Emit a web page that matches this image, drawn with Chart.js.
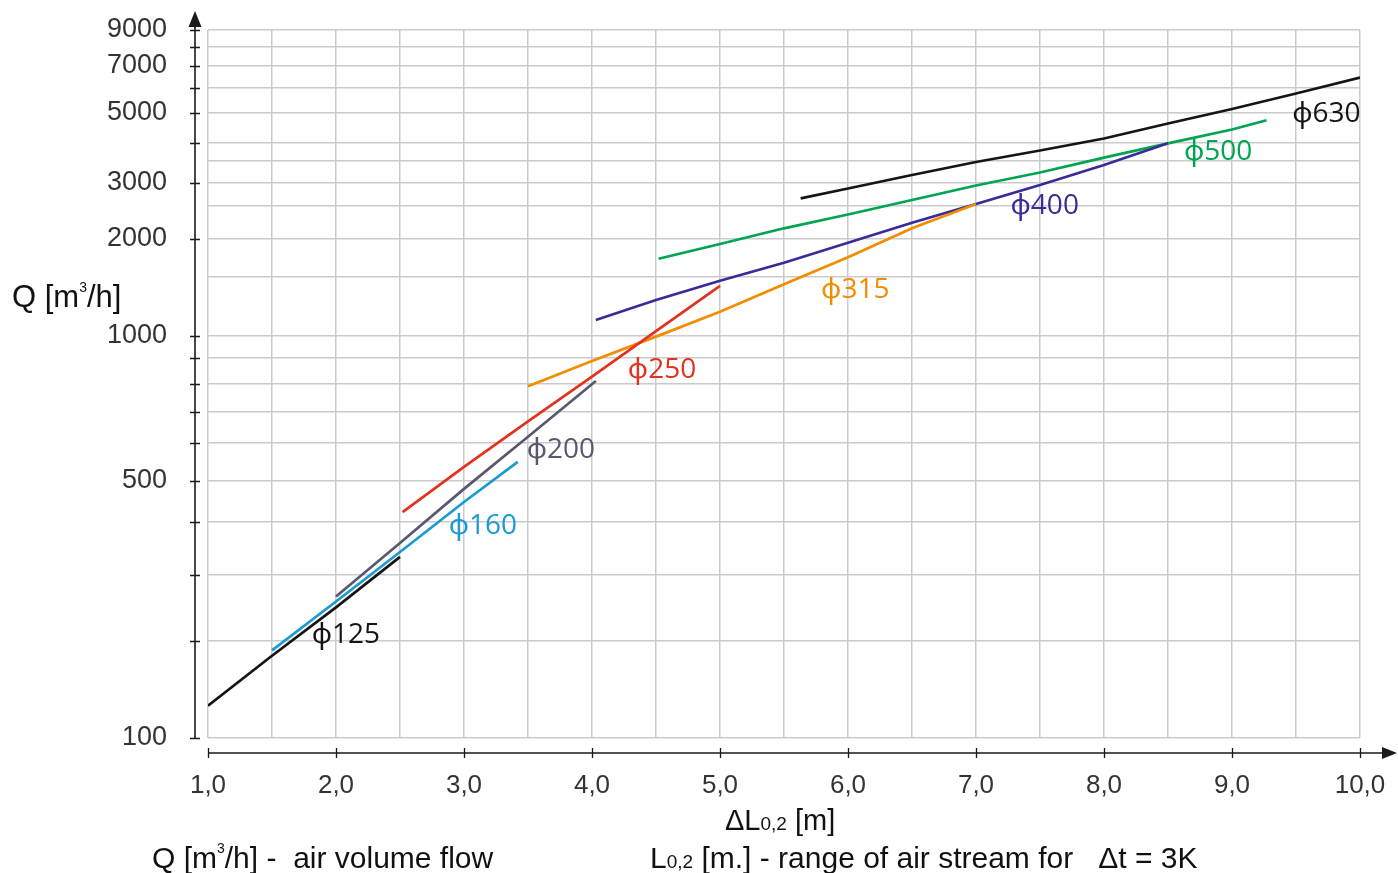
<!DOCTYPE html>
<html>
<head>
<meta charset="utf-8">
<title>Q - air volume flow vs L0,2</title>
<script src="https://cdn.jsdelivr.net/npm/chart.js@4.4.1/dist/chart.umd.min.js"></script>
<style>
  html, body { margin: 0; padding: 0; background: #fff; }
  #wrap { position: relative; width: 1398px; height: 873px; }
</style>
</head>
<body>
<div id="wrap"><canvas id="airChart" width="1398" height="873"></canvas></div>
<script>
// --- curves (x = ΔL0,2 in m, q = Q in m3/h) ---
const x125 = [1.0, 1.5, 2.0, 2.5];
const q125 = [126, 180, 246, 331];
const x160 = [1.5, 2.0, 2.5, 3.0, 3.42];
const q160 = [187, 255, 340, 446, 548];
const x200 = [2.0, 2.5, 3.0, 3.5, 4.03];
const q200 = [263, 357, 479, 619, 811];
const x250 = [2.52, 3.0, 3.5, 4.0, 4.5, 5.0];
const q250 = [422, 535, 668, 827, 1034, 1412];
const x315 = [3.5, 4.0, 4.5, 5.0, 5.5, 6.0, 6.5, 7.0];
const q315 = [791, 888, 997, 1182, 1427, 1741, 2150, 2540];
const x400 = [4.03, 4.5, 5.0, 5.5, 6.0, 6.5, 7.0, 7.5, 8.0, 8.5];
const q400 = [1116, 1281, 1462, 1672, 1945, 2233, 2540, 2952, 3403, 3990];
const x500 = [4.52, 5.0, 5.5, 6.0, 6.5, 7.0, 7.5, 8.0, 8.5, 9.0, 9.27];
const q500 = [1723, 1925, 2150, 2360, 2622, 2942, 3229, 3587, 3990, 4422, 4737];
const x630 = [5.63, 6.0, 6.5, 7.0, 7.5, 8.0, 8.5, 9.0, 9.5, 10.0];
const q630 = [2657, 2872, 3173, 3476, 3783, 4136, 4624, 5148, 5765, 6449];

// curve labels (text, where it sits in data units)
const labelText = ['ϕ125', 'ϕ160', 'ϕ200', 'ϕ250', 'ϕ315', 'ϕ400', 'ϕ500', 'ϕ630'];
const labelX = [1.81, 2.88, 3.49, 4.28, 5.79, 7.27, 8.625, 9.47];
const labelQ = [210, 396, 586, 860, 1391, 2540, 3797, 5047];

// axis ticks
const yTickValues = [100, 200, 300, 400, 500, 600, 700, 800, 900,
                     1000, 2000, 3000, 4000, 5000, 6000, 7000, 8000, 9000];
const yLabelValues = [100, 500, 1000, 2000, 3000, 5000, 7000, 9000];
const yExtraGrid = [1500, 2500, 3500];
const xMarkValues = [1, 2, 3, 4, 5, 6, 7, 8, 9, 10];

// the printed Q axis is not a clean log axis: each stop's share of the height
const yStopValues = [100, 200, 300, 400, 500, 600, 700, 800, 900, 1000,
                     1500, 2000, 2500, 3000, 3500, 4000, 5000, 6000, 7000, 8000, 9000];
const yStopFractions = [0, 0.137, 0.2302, 0.3051, 0.363, 0.4167, 0.4605, 0.5, 0.5367, 0.5678,
                        0.6511, 0.7048, 0.7514, 0.7839, 0.815, 0.8404, 0.8828, 0.9181, 0.9492, 0.976, 1];

const colors = ['#151515', '#1b9ad4', '#595871', '#e3321f', '#f28c00', '#392c99', '#00a551', '#151515'];
const FONT = '"Liberation Sans", Arial, sans-serif';

// piecewise log mapping value -> 0..1
function warp(v) {
  const n = yStopValues.length;
  let i = 1;
  while (i < n - 1 && v > yStopValues[i]) i++;
  const a = yStopValues[i - 1], b = yStopValues[i];
  const t = Math.log(v / a) / Math.log(b / a);
  return yStopFractions[i - 1] + t * (yStopFractions[i] - yStopFractions[i - 1]);
}
function unwarp(d) {
  const n = yStopFractions.length;
  let i = 1;
  while (i < n - 1 && d > yStopFractions[i]) i++;
  const fa = yStopFractions[i - 1], fb = yStopFractions[i];
  const t = (d - fa) / (fb - fa);
  return yStopValues[i - 1] * Math.pow(yStopValues[i] / yStopValues[i - 1], t);
}

class NomogramScale extends Chart.Scale {
  determineDataLimits() {
    this.min = yStopValues[0];
    this.max = yStopValues[yStopValues.length - 1];
  }
  buildTicks() {
    return yTickValues.concat(yExtraGrid).sort((a, b) => a - b).map(v => ({ value: v }));
  }
  getLabelForValue(v) { return String(v); }
  getPixelForValue(v) {
    if (v === null || v === undefined || isNaN(v)) return NaN;
    return this.getPixelForDecimal(warp(v));
  }
  getValueForPixel(p) { return unwarp(this.getDecimalForPixel(p)); }
}
NomogramScale.id = 'nomogram';
NomogramScale.defaults = {};
Chart.register(NomogramScale);

function pairs(xs, qs) { return xs.map((x, i) => ({ x: x, y: qs[i] })); }

const series = [
  pairs(x125, q125), pairs(x160, q160), pairs(x200, q200), pairs(x250, q250),
  pairs(x315, q315), pairs(x400, q400), pairs(x500, q500), pairs(x630, q630)
];

function drawRuns(ctx, x, y, runs) {
  let cx = x;
  runs.forEach(r => {
    ctx.font = r.size + 'px ' + FONT;
    ctx.fillText(r.text, cx, y + (r.dy || 0));
    cx += ctx.measureText(r.text).width;
  });
}

const decorPlugin = {
  id: 'nomogramDecor',
  afterDraw(chart) {
    const { ctx, chartArea: ca } = chart;
    const xs = chart.scales.x, ys = chart.scales.y;
    const ax = ca.left - 13, ay = ca.bottom + 15;
    ctx.save();
    ctx.strokeStyle = '#1a1a1a';
    ctx.fillStyle = '#1a1a1a';
    ctx.lineWidth = 1.6;

    // axis lines with arrows
    ctx.beginPath();
    ctx.moveTo(ax, ca.bottom); ctx.lineTo(ax, 22);
    ctx.moveTo(ca.left, ay); ctx.lineTo(1386, ay);
    ctx.stroke();
    ctx.beginPath();
    ctx.moveTo(ax, 11); ctx.lineTo(ax - 6.5, 27); ctx.lineTo(ax + 6.5, 27); ctx.closePath();
    ctx.moveTo(1397, ay); ctx.lineTo(1382, ay - 6); ctx.lineTo(1382, ay + 6); ctx.closePath();
    ctx.fill();

    // tick marks on the axes
    ctx.lineWidth = 1.3;
    ctx.beginPath();
    yTickValues.forEach(v => {
      const py = Math.round(ys.getPixelForValue(v)) + 0.5;
      ctx.moveTo(ax - 5, py); ctx.lineTo(ax + 5, py);
    });
    xMarkValues.forEach(v => {
      const px = Math.round(xs.getPixelForValue(v)) + 0.5;
      ctx.moveTo(px, ay - 5); ctx.lineTo(px, ay + 5);
    });
    ctx.stroke();

    // curve labels
    ctx.font = '28px "Open Sans", "Noto Sans", sans-serif';
    ctx.textAlign = 'left';
    ctx.textBaseline = 'alphabetic';
    labelText.forEach((t, i) => {
      ctx.fillStyle = colors[i];
      ctx.fillText(t, xs.getPixelForValue(labelX[i]), ys.getPixelForValue(labelQ[i]) + 10);
    });

    // titles and caption
    ctx.fillStyle = '#111';
    drawRuns(ctx, 12, 307, [
      { text: 'Q [m', size: 31 }, { text: '3', size: 14, dy: -15 }, { text: '/h]', size: 31 }
    ]);
    drawRuns(ctx, 725, 830, [
      { text: 'ΔL', size: 29 }, { text: '0,2', size: 19 }, { text: ' [m]', size: 29 }
    ]);
    drawRuns(ctx, 152, 868, [
      { text: 'Q [m', size: 30 }, { text: '3', size: 14, dy: -15 },
      { text: '/h] -  air volume flow', size: 30 }
    ]);
    drawRuns(ctx, 650, 868, [
      { text: 'L', size: 30 }, { text: '0,2', size: 19 },
      { text: ' [m.] - range of air stream for   Δt = 3K', size: 30 }
    ]);
    ctx.restore();
  }
};

const gridStyle = { color: '#cbcbcb', lineWidth: 1.5, drawTicks: false };

new Chart(document.getElementById('airChart'), {
  type: 'line',
  data: {
    datasets: series.map((d, i) => ({
      label: labelText[i],
      data: d,
      borderColor: colors[i],
      borderWidth: 2.7,
      pointRadius: 0,
      tension: 0,
      fill: false
    }))
  },
  options: {
    responsive: false,
    animation: false,
    layout: { padding: { top: 30, right: 38, left: 0, bottom: 0 } },
    plugins: { legend: { display: false }, tooltip: { enabled: false } },
    scales: {
      x: {
        type: 'linear',
        min: 1,
        max: 10,
        grid: gridStyle,
        border: { display: false },
        ticks: {
          stepSize: 0.5,
          autoSkip: false,
          maxRotation: 0,
          padding: 32,
          color: '#333',
          font: { family: FONT, size: 26 },
          callback: v => Number.isInteger(v) ? v.toFixed(1).replace('.', ',') : ''
        },
        afterFit: s => { s.height = 135; s.paddingLeft = 0; s.paddingRight = 0; }
      },
      y: {
        type: 'nomogram',
        position: 'left',
        grid: gridStyle,
        border: { display: false },
        ticks: {
          autoSkip: false,
          padding: 41,
          color: '#333',
          font: { family: FONT, size: 27 },
          callback: v => yLabelValues.includes(v) ? String(v) : ''
        },
        afterFit: s => { s.width = 208; s.paddingTop = 0; s.paddingBottom = 0; }
      }
    }
  },
  plugins: [decorPlugin]
});
</script>
</body>
</html>
